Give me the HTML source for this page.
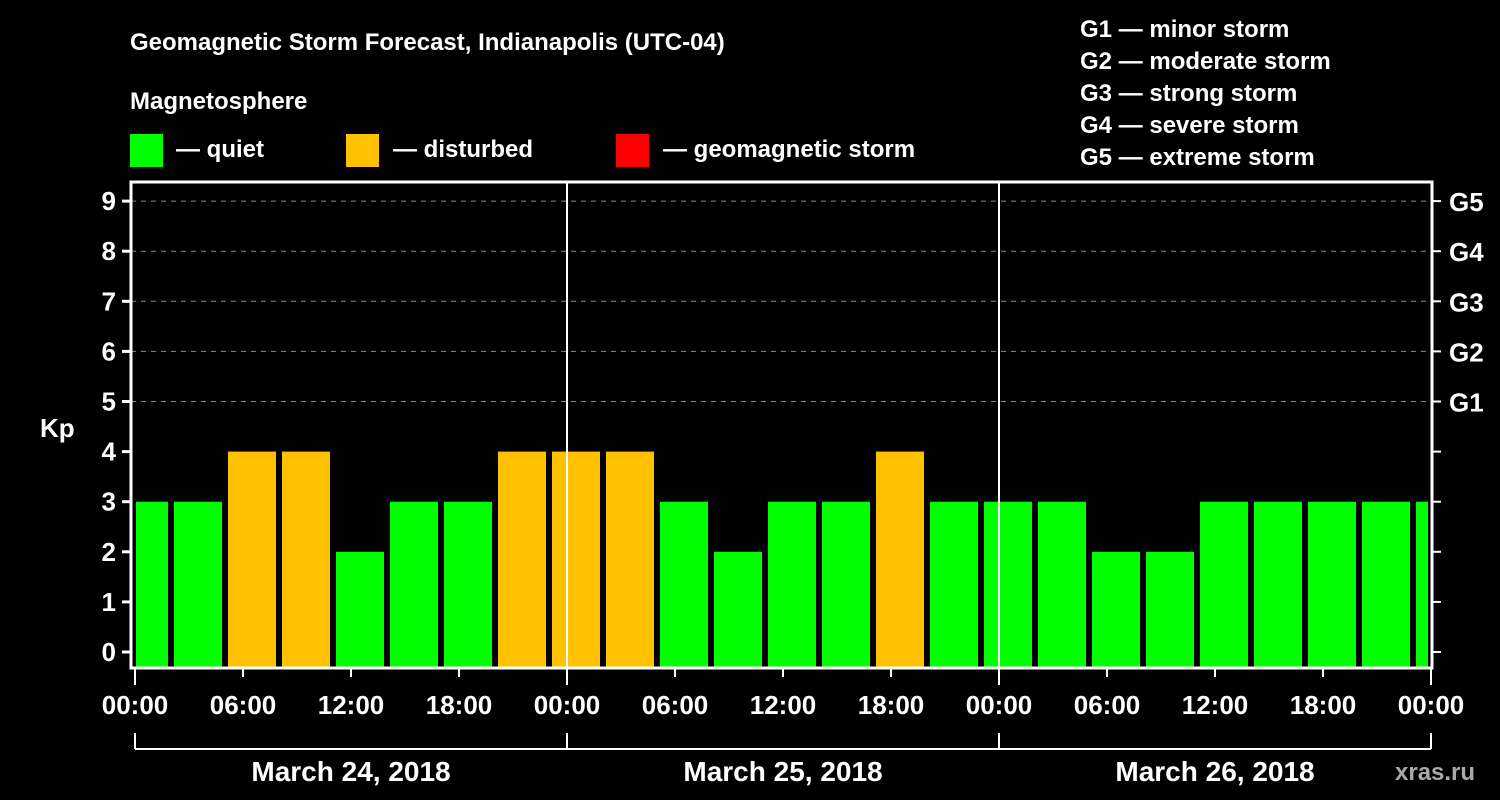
<!DOCTYPE html>
<html><head><meta charset="utf-8"><style>
html,body{margin:0;padding:0;background:#000;}
svg{display:block;font-family:"Liberation Sans",sans-serif;font-weight:bold;}
</style></head><body>
<svg id="chart" width="1500" height="800">
<rect width="1500" height="800" fill="#000"/>
<text x="130" y="50" fill="#fff" font-size="24">Geomagnetic Storm Forecast, Indianapolis (UTC-04)</text>
<text x="130" y="109" fill="#fff" font-size="24">Magnetosphere</text>
<g><rect x="130" y="134" width="33" height="33" fill="#00ff00"/><text x="176" y="157" fill="#fff" font-size="24">— quiet</text></g>
<g><rect x="346" y="134" width="33" height="33" fill="#ffc000"/><text x="393" y="157" fill="#fff" font-size="24">— disturbed</text></g>
<g><rect x="616" y="134" width="33" height="33" fill="#ff0000"/><text x="663" y="157" fill="#fff" font-size="24">— geomagnetic storm</text></g>
<g fill="#fff" font-size="24">
<text x="1080" y="37">G1 — minor storm</text>
<text x="1080" y="69">G2 — moderate storm</text>
<text x="1080" y="101">G3 — strong storm</text>
<text x="1080" y="133">G4 — severe storm</text>
<text x="1080" y="165">G5 — extreme storm</text>
</g>
<text x="40" y="437" fill="#fff" font-size="26">Kp</text>
<text x="1395" y="780" fill="#aaa" font-size="24">xras.ru</text>
<g id="plot"></g>
</svg>
<script>
const kpValues=[3,3,4,4,2,3,3,4,4,4,3,2,3,3,4,3,3,3,2,2,3,3,3,3,3];
const yTicks=[0,1,2,3,4,5,6,7,8,9];
const gLabels=["G1","G2","G3","G4","G5"];
const xTickLabels=["00:00","06:00","12:00","18:00","00:00","06:00","12:00","18:00","00:00","06:00","12:00","18:00","00:00"];
const dayLabels=["March 24, 2018","March 25, 2018","March 26, 2018"];
const NS="http://www.w3.org/2000/svg";
const g=document.getElementById('plot');
const L=131,R=1432,T=182,B=668,X0=135,PXH=18;
const y=v=>652-v*50.1;
const x=h=>X0+h*PXH;
function el(tag,a,p){const e=document.createElementNS(NS,tag);for(const k in a)e.setAttribute(k,a[k]);(p||g).appendChild(e);return e;}
// grid
yTicks.forEach(v=>{if(v>=5){const l=el('line',{x1:L,x2:R,y1:y(v),y2:y(v),stroke:'#888','stroke-width':1,'stroke-dasharray':'5,5'});

}});
// bars
kpValues.forEach((v,i)=>{let x1=x(i*3)-15,x2=x1+48;x1=Math.max(x1,L+5);x2=Math.min(x2,R-4);
const c=v>=5?'#ff0000':(v>=4?'#ffc000':'#00ff00');
const r=el('rect',{x:x1,y:y(v),width:x2-x1,height:B-y(v),fill:c});

});
// day separators
[1,2].forEach(d=>{const l=el('line',{x1:x(d*24),x2:x(d*24),y1:T,y2:B,stroke:'#fff','stroke-width':2});

});
// frame
const f=el('rect',{x:L,y:T,width:R-L,height:B-T,fill:'none',stroke:'#fff','stroke-width':3});


// y ticks
yTicks.forEach(v=>{el('line',{x1:L-9,x2:L,y1:y(v),y2:y(v),stroke:'#fff','stroke-width':3});
el('line',{x1:R,x2:R+9,y1:y(v),y2:y(v),stroke:'#fff','stroke-width':2});
const t=el('text',{x:L-15,y:y(v)+9,fill:'#fff','font-size':26,'text-anchor':'end'});t.textContent=v;

});
gLabels.forEach((s,i)=>{const t=el('text',{x:1449,y:y(i+5)+10,fill:'#fff','font-size':26});t.textContent=s;

});
// x ticks
xTickLabels.forEach((s,i)=>{const xx=x(i*6);const big=i%4===0;
el('line',{x1:xx,x2:xx,y1:B,y2:big?685:677,stroke:'#fff','stroke-width':2});
const t=el('text',{x:xx,y:714,fill:'#fff','font-size':26,'text-anchor':'middle'});t.textContent=s;

});
// date bracket
el('line',{x1:x(0),x2:x(72),y1:749,y2:749,stroke:'#fff','stroke-width':2});
[0,1,2,3].forEach(d=>el('line',{x1:x(d*24),x2:x(d*24),y1:733,y2:749,stroke:'#fff','stroke-width':2}));
dayLabels.forEach((s,d)=>{const t=el('text',{x:x(d*24+12),y:781,fill:'#fff','font-size':28,'text-anchor':'middle'});t.textContent=s;

});
</script>
</body></html>
